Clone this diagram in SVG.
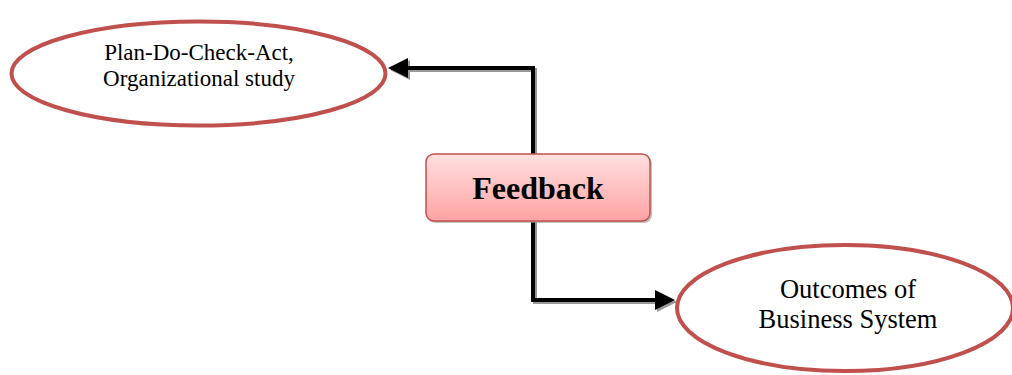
<svg xmlns="http://www.w3.org/2000/svg" width="1012" height="375" viewBox="0 0 1012 375">
<defs>
<linearGradient id="fb" x1="0" y1="0" x2="0" y2="1">
<stop offset="0" stop-color="#FFE0E0"/>
<stop offset="1" stop-color="#FFA3A3"/>
</linearGradient>
<marker id="ah" markerWidth="5" markerHeight="5" refX="4" refY="2.5" orient="auto" markerUnits="strokeWidth">
<path d="M0,0 L5,2.5 L0,5 Z" fill="#000"/>
</marker>
<marker id="ahs" markerWidth="5" markerHeight="5" refX="4" refY="2.5" orient="auto" markerUnits="strokeWidth">
<path d="M0,0 L5,2.5 L0,5 Z" fill="#999"/>
</marker>
</defs>
<style>
.ell{fill:#fff;stroke:#C0504D;stroke-width:4}
.t{font-family:"Liberation Serif",serif;text-anchor:middle;fill:#000}
.c{fill:none;stroke:#000;stroke-width:4}
.cs{fill:none;stroke:#999;stroke-width:4}
</style>
<g id="connectors">
<path class="cs" d="M535,155 V70 H394" marker-end="url(#ahs)"/>
<path class="cs" d="M535,222 V302 H673" marker-end="url(#ahs)"/>
<path class="c" d="M533,155 V68 H392" marker-end="url(#ah)"/>
<path class="c" d="M533,222 V300 H671" marker-end="url(#ah)"/>
</g>
<g id="node-pdca">
<ellipse class="ell" cx="198.5" cy="73.5" rx="187" ry="52"/>
<text class="t" x="199" y="60" font-size="23">Plan-Do-Check-Act,</text>
<text class="t" x="199" y="86" font-size="23">Organizational study</text>
</g>
<g id="node-feedback">
<rect x="428" y="156" width="224" height="67" rx="8" fill="#9a9a9a" opacity="0.6"/>
<rect x="426" y="154" width="224" height="67" rx="8" fill="url(#fb)" stroke="#C0504D" stroke-width="1.5"/>
<text class="t" x="538" y="199" font-size="32" font-weight="bold">Feedback</text>
</g>
<g id="node-outcomes">
<ellipse class="ell" cx="845" cy="308" rx="168" ry="63"/>
<text class="t" x="848" y="298" font-size="26.5">Outcomes of</text>
<text class="t" x="848" y="328" font-size="26.5">Business System</text>
</g>
</svg>
